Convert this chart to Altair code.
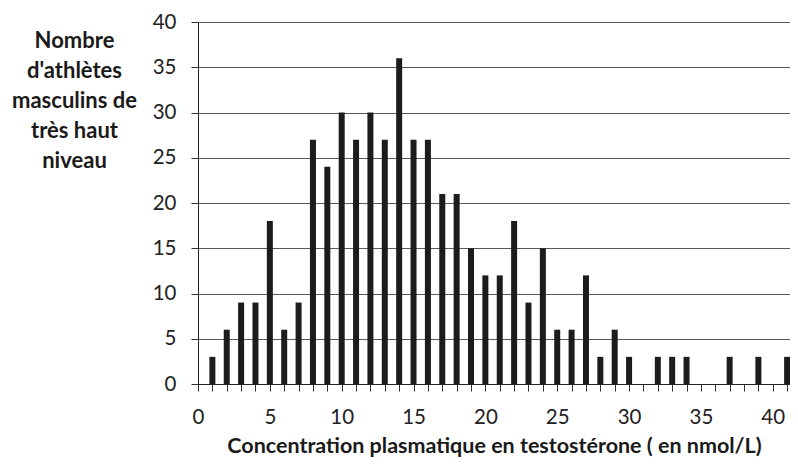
import altair as alt
import pandas as pd

# Concentration (nmol/L) and number of athletes
concentration = list(range(1, 42))
athletes = [3, 6, 9, 9, 18, 6, 9, 27, 24, 30,
            27, 30, 27, 36, 27, 27, 21, 21, 15, 12,
            12, 18, 9, 15, 6, 6, 12, 3, 6, 3,
            0, 3, 3, 3, 0, 0, 3, 0, 3, 0,
            3]
x_ticks = list(range(0, 42))
y_ticks = [0, 5, 10, 15, 20, 25, 30, 35, 40]

df = pd.DataFrame({"c": concentration, "n": athletes})
df = df[df["n"] > 0]

FONT = "Lato"

chart = alt.Chart(df).mark_bar(size=6, color="#1c1c1c").encode(
    x=alt.X("c:Q",
            scale=alt.Scale(domain=[0, 41.2], nice=False, zero=True, padding=0),
            axis=alt.Axis(
                values=x_ticks,
                labelExpr="datum.value % 5 == 0 ? datum.label : ''",
                title="Concentration plasmatique en testostérone ( en nmol/L)",
                titleFont=FONT, titleFontSize=21.5, titleFontWeight="bold",
                titleColor="#1a1a1a", titlePadding=8,
                labelFont=FONT, labelFontSize=20.5, labelColor="#222222",
                labelPadding=16, tickSize=7, tickColor="#333333",
                domainColor="#222222", grid=False, labelFlush=False,
            )),
    y=alt.Y("n:Q",
            scale=alt.Scale(domain=[0, 40], nice=False),
            axis=alt.Axis(
                values=y_ticks,
                title=["Nombre", "d'athlètes", "masculins de", "très haut", "niveau"],
                titleAngle=0, titleAlign="center", titleBaseline="top",
                titleX=-124, titleY=8, titleLineHeight=30,
                titleFont=FONT, titleFontSize=22, titleFontWeight="bold",
                titleColor="#1a1a1a",
                labelFont=FONT, labelFontSize=20.5, labelColor="#222222",
                labelPadding=15, tickSize=7, tickColor="#333333",
                domainColor="#222222",
                gridColor="#5a5a5a", gridWidth=1.2, gridOpacity=1,
            )),
).properties(
    width=592, height=362,
    padding={"left": 190, "top": 14, "right": 0, "bottom": 73},
    autosize=alt.AutoSizeParams(type="none"),
).configure_view(stroke=None)

chart.save("out.html", embed_options={"renderer": "svg", "actions": False})
